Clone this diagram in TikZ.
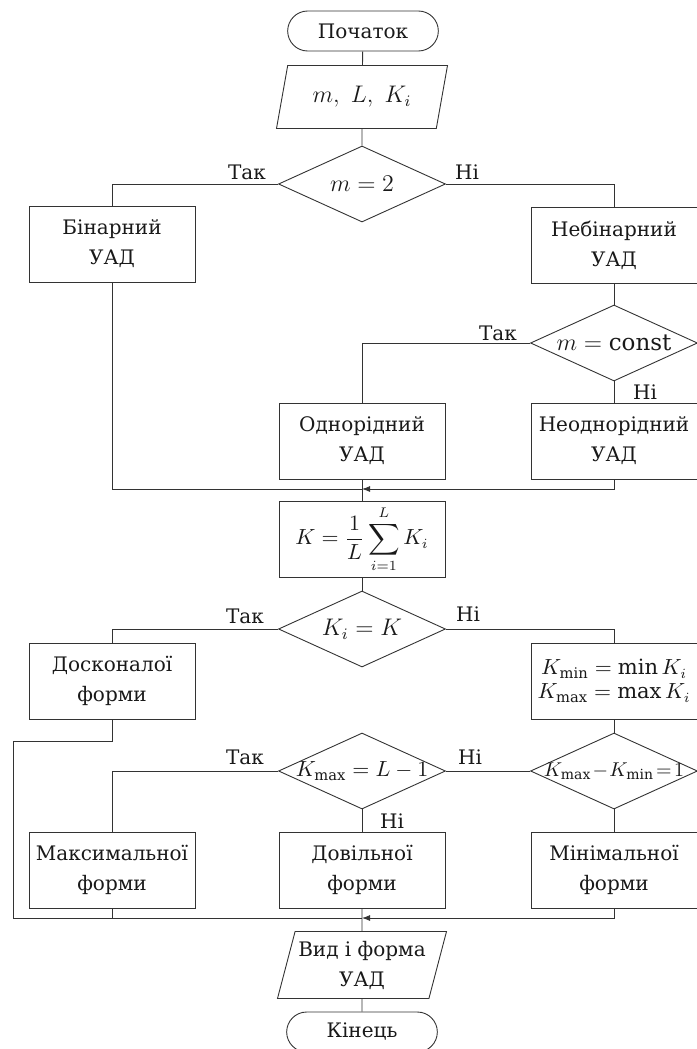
\documentclass[tikz,border=0pt]{standalone}
\usepackage{amsmath}
\usepackage{fontspec}
\setmainfont{DejaVu Serif}
\usetikzlibrary{shapes.geometric,shapes.misc,arrows.meta}

\def\unit{0.5pt}

\begin{document}
\begin{tikzpicture}[%
	x=\unit, y=-\unit,%
	line width=0.45pt, draw=black!80,%
	every node/.style={font=\fontsize{10}{15}\selectfont, text=black!90},%
	proc/.style={draw, rectangle, align=center, minimum width=83pt, minimum height=38pt, inner sep=1pt},%
	term/.style={draw, rounded rectangle, minimum width=82pt, minimum height=20pt},%
	cond/.style={draw, diamond, aspect=2.4, inner xsep=-3pt, inner ysep=-1pt, minimum width=83.5pt, minimum height=38pt, font=\fontsize{11.5}{14}\selectfont},%
	inbox/.style={draw, trapezium, trapezium left angle=62, trapezium right angle=118, trapezium stretches body, minimum width=85.5pt, minimum height=31.5pt, align=center, inner sep=0pt},%
	outbox/.style={draw, trapezium, trapezium left angle=70, trapezium right angle=110, trapezium stretches body, minimum width=84.5pt, minimum height=33.5pt, align=center, inner sep=0pt},%
	tipline/.style={-{Latex[length=4pt,width=3pt]}},%
	answer/.style={inner sep=0pt},%
	]
\useasboundingbox (0,0) rectangle (696,1049);
%%% top
	\node [term] (start) at (363,31) {Початок};
	\node [inbox, font=\fontsize{11.5}{14}\selectfont] (input) at (362,97) {$m,\ L,\ K_i$};
	\node [cond] (isbin) at (362,184) {$m=2$};
	\node [proc] (bin) at (112,244) {Бінарний\\УАД};
	\node [proc] (nonbin) at (614,245) {Небінарний\\УАД};
	\node [cond] (isconst) at (614,343) {$m=\mathrm{const}$};
	\node [proc] (homo) at (362,441) {Однорідний\\УАД};
	\node [proc] (inhomo) at (614,441) {Неоднорідний\\УАД};
	\coordinate (join1) at (362,489);
%%% top
%%% middle
	\node [proc, font=\fontsize{10.5}{14}\selectfont] (mean) at (362,539) {$K=\dfrac{1}{L}\displaystyle\sum_{i=1}^{L}K_i$};
	\node [cond] (iseq) at (362,629) {$K_i=K$};
	\node [proc, font=\fontsize{10.5}{12}\selectfont] (minmax) at (614,681) {$K_{\min}=\min K_i$\\$K_{\max}=\max K_i$};
	\node [proc] (perfect) at (112,681) {Досконалої\\форми};
	\node [cond, font=\fontsize{10.5}{14}\selectfont] (ismax) at (362,771) {$K_{\max}=L-1$};
	\node [cond, font=\fontsize{10}{14}\selectfont] (ismin) at (614,771) {$K_{\max}\!-\!K_{\min}\!=\!1$};
	\coordinate (bend) at (13,741);
%%% middle
%%% bottom
	\node [proc] (maxform) at (112,870) {Максимальної\\форми};
	\node [proc] (anyform) at (362,870) {Довільної\\форми};
	\node [proc] (minform) at (614,870) {Мінімальної\\форми};
	\coordinate (join2) at (362,918);
	\node [outbox] (output) at (362,965) {Вид і форма\\УАД};
	\node [term] (stop) at (362,1032) {Кінець};
%%% bottom
%%% labels
	\foreach \i/\x/\y/\t in {1/247/172/Так,2/467/172/Ні,3/498/333/Так,4/645/392/Ні,5/245/616/Так,6/468/614/Ні,7/245/757/Так,8/392/821/Ні,9/470/757/Ні}
		{\node [answer] (ans\i) at (\x,\y) {\t};}
%%% labels
%%% lines
	\draw (start) -- (input);
	\draw (input) -- (isbin);
	\draw (isbin.west) -| (bin.north);
	\draw (isbin.east) -| (nonbin.north);
	\draw (nonbin) -- (isconst);
	\draw (isconst.west) -| (homo.north);
	\draw (isconst) -- (inhomo);
	\draw (bin.south) |- (join1);
	\draw [tipline] (inhomo.south) |- (join1);
	\draw (homo) -- (mean);
	%
	\draw (mean) -- (iseq);
	\draw (iseq.west) -| (perfect.north);
	\draw (iseq.east) -| (minmax.north);
	\draw (minmax) -- (ismin);
	\draw (ismin.west) -- (ismax.east);
	\draw (ismax.west) -| (maxform.north);
	\draw (ismax) -- (anyform);
	\draw (ismin) -- (minform);
	%
	\draw (perfect.south) |- (bend) |- (join2);
	\draw (maxform.south) |- (join2);
	\draw [tipline] (minform.south) |- (join2);
	\draw (anyform) -- (output);
	\draw (output) -- (stop);
%%% lines
\end{tikzpicture}
\end{document}
